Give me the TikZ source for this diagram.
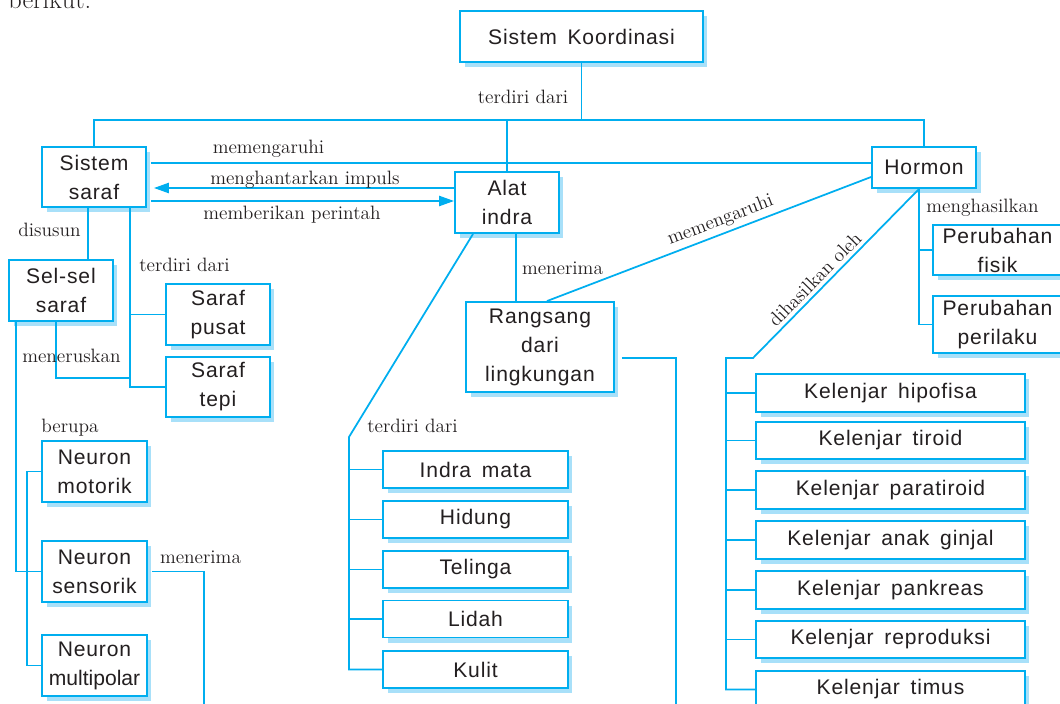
\documentclass[tikz,border=0pt]{standalone}
\usepackage{fontspec}
\newfontfamily\boxfont{Liberation Sans}[LetterSpace=4,WordSpace=1.6]
\usetikzlibrary{arrows.meta, shadows, calc}

\definecolor{linecyan}{RGB}{0,174,239}
\definecolor{shadowblue}{RGB}{168,224,249}
\definecolor{inkgray}{RGB}{35,31,32}

\begin{document}
\begin{tikzpicture}[
    x=0.02cm, y=-0.02cm,
    box/.style={
        draw=linecyan, line width=1.1pt, fill=white, text=inkgray,
        font=\boxfont\fontsize{12}{16.5}\selectfont, align=center, inner sep=0pt,
        drop shadow={shadow xshift=0.09cm, shadow yshift=-0.1cm,
            fill=shadowblue, opacity=1},
    },
    link/.style={draw=linecyan, line width=1pt},
    tip/.style={link, -{Triangle[length=8.5pt, width=5.8pt]}},
    lbl/.style={font=\fontsize{11}{13}\selectfont, text=inkgray, inner sep=0pt},
]
\useasboundingbox (0,0) rectangle (1060,703);

\node[anchor=base west, font=\fontsize{15}{18}\selectfont, inner sep=0pt,
    text=inkgray] (intro) at (8,9) {berikut:};

% =============================================================================
% Top: Sistem Koordinasi
% =============================================================================
\node[box, minimum width=4.86cm, minimum height=1.02cm] (koord) at (581.5,36.5)
    {Sistem Koordinasi};
\coordinate (bar) at (581.5,120);
\draw[link] (koord.south) -- (bar);
\node[lbl] (lbl-top) at (523,97) {terdiri dari};

\node[box, minimum width=2.08cm, minimum height=1.2cm] (saraf) at (94,177) {Sistem\\saraf};
\node[box, minimum width=2.08cm, minimum height=1.22cm] (alat) at (507,202.5) {Alat\\indra};
\node[box, minimum width=2.08cm, minimum height=0.82cm] (hormon) at (924,167.5) {Hormon};

\draw[link] (saraf.north) |- (bar -| hormon.north) -- (hormon.north);
\draw[link] (alat.north) -- (alat.north |- bar);

% Links between Sistem saraf, Alat indra and Hormon
\coordinate (s1) at ([xshift=0.08cm, yshift=0.28cm]saraf.east);
\coordinate (s2) at ([xshift=0.14cm, yshift=-0.22cm]saraf.east);
\coordinate (s3) at ([xshift=0.08cm, yshift=-0.48cm]saraf.east);
\draw[link] (s1) -- (s1 -| hormon.west);
\draw[tip] (s2 -| alat.west) -- (s2);
\draw[tip] (s3) -- (s3 -| alat.west);
\node[lbl] (lbl-pengaruh) at (268.5,149) {memengaruhi};
\node[lbl] (lbl-impuls) at (305,180) {menghantarkan impuls};
\node[lbl] (lbl-perintah) at (292,215) {memberikan perintah};

% =============================================================================
% Left: Sistem saraf
% =============================================================================
\node[box, minimum width=2.08cm, minimum height=1.22cm] (sel) at (61,290.5) {Sel-sel\\saraf};
\node[box, minimum width=2.08cm, minimum height=1.22cm] (pusat) at (218,314.5) {Saraf\\pusat};
\node[box, minimum width=2.08cm, minimum height=1.2cm] (tepi) at (218,387) {Saraf\\tepi};

\coordinate (d1) at ([xshift=0.54cm]sel.north);
\coordinate (d2) at ([xshift=0.72cm]saraf.south);
\coordinate (d3) at ([xshift=-0.1cm]sel.south);
\draw[link] (d1) -- (d1 |- saraf.south);
\draw[link] (d2) |- (tepi.west);
\draw[link] (pusat.west) -- (pusat.west -| d2);
\draw[link] (d3) -- ++(0,56) -- ++(74,0);
\node[lbl] (lbl-susun) at (49.5,230) {disusun};
\node[lbl] (lbl-saraf) at (184.5,265) {terdiri dari};
\node[lbl] (lbl-terus) at (71.5,356) {meneruskan};

\node[box, minimum width=2.1cm, minimum height=1.22cm] (motorik) at (94.5,471.5) {Neuron\\motorik};
\node[box, minimum width=2.1cm, minimum height=1.22cm] (sensorik) at (94.5,571.5) {Neuron\\sensorik};
\node[box, minimum width=2.1cm, minimum height=1.22cm] (multipolar) at (94.5,665.5)
    {Neuron\\{\addfontfeature{LetterSpace=0}multipolar}};

\coordinate (sens-end) at (204,712);
\draw[link] ([xshift=-0.9cm]sel.south) |- (sensorik.west);
\draw[link] (motorik.west) -- ++(-14,0) |- (multipolar.west);
\draw[link] ([xshift=0.08cm]sensorik.east) -| (sens-end);
\node[lbl] (lbl-berupa) at (70,428) {berupa};
\node[lbl] (lbl-terima1) at (200.5,557) {menerima};

% =============================================================================
% Middle: Alat indra
% =============================================================================
\node[box, minimum width=2.96cm, minimum height=1.8cm] (rangsang) at (540,347)
    {Rangsang\\dari\\lingkungan};

\coordinate (a1) at ([xshift=0.18cm]alat.south);
\coordinate (a2) at ([xshift=-0.68cm]alat.south);
\coordinate (a3) at (349,437);
\coordinate (rang-end) at (676,712);
\draw[link] (a1) -- (a1 |- rangsang.north);
\draw[link] ([xshift=0.14cm, yshift=-0.22cm]rangsang.east) -| (rang-end);
\node[lbl] (lbl-terima2) at (562.5,268) {menerima};

\foreach \name/\txt/\y in {mata/Indra mata/469.5, hidung/Hidung/519.5,
        telinga/Telinga/569.5, lidah/Lidah/619, kulit/Kulit/669.5} {
    \node[box, minimum width=3.7cm, minimum height=0.74cm] (\name) at (475.5,\y) {\txt};
}
\draw[link] (a2) -- (a3) |- (kulit.west);
\foreach \name in {mata, hidung, telinga, lidah} {
    \draw[link] (\name.west) -- (\name.west -| a3);
}
\node[lbl] (lbl-indra) at (412.5,426) {terdiri dari};

% Hormon memengaruhi rangsang
\draw[link] ([xshift=0.14cm]rangsang.north) -- ([yshift=-0.19cm]hormon.west)
    node[lbl, pos=0.55, sloped, above=2pt] (lbl-pengaruh2) {memengaruhi};

% =============================================================================
% Right: Hormon
% =============================================================================
\node[box, minimum width=2.58cm, minimum height=1.0cm] (fisik) at (997.5,250) {Perubahan\\fisik};
\node[box, minimum width=2.58cm, minimum height=1.14cm] (perilaku) at (997.5,324.5) {Perubahan\\perilaku};

\coordinate (h1) at ([xshift=-0.1cm]hormon.south);
\draw[link] (h1) |- (perilaku.west);
\draw[link] (fisik.west) -- (fisik.west -| h1);
\node[lbl] (lbl-hasil) at (982.5,208) {menghasilkan};

\foreach \name/\txt/\y in {hipofisa/Kelenjar hipofisa/393, tiroid/Kelenjar tiroid/440.5,
        paratiroid/Kelenjar paratiroid/490, ginjal/Kelenjar anak ginjal/540,
        pankreas/Kelenjar pankreas/590, reproduksi/Kelenjar reproduksi/639.5,
        timus/Kelenjar timus/689.5} {
    \node[box, minimum width=5.38cm, minimum height=0.75cm] (\name) at (890.5,\y) {\txt};
}
\coordinate (k1) at (753,358);
\coordinate (k2) at (726,358);
\draw[link] (timus.west) -| (k2) -- (k1)
    -- node[lbl, pos=0.42, sloped, above=2pt] (lbl-dihasil) {dihasilkan oleh} (h1);
\foreach \name in {hipofisa, tiroid, paratiroid, ginjal, pankreas, reproduksi} {
    \draw[link] (\name.west) -- (\name.west -| k2);
}

\end{tikzpicture}
\end{document}
